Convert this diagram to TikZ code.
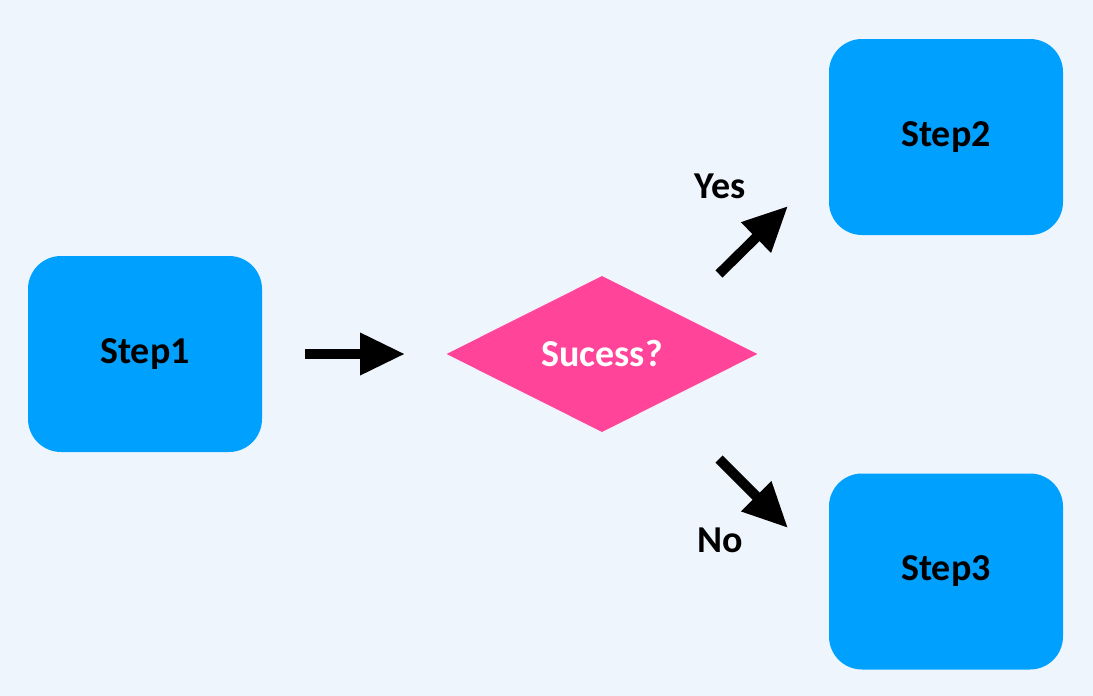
\documentclass[tikz,border=0pt]{standalone}
\usepackage{fontspec}
\setmainfont{Carlito}
\usetikzlibrary{shapes.geometric,arrows.meta}
\definecolor{bg}{HTML}{EFF5FD}
\definecolor{boxblue}{HTML}{00A0FF}
\definecolor{decpink}{HTML}{FF4499}
\tikzset{
  bigtext/.style={font=\fontsize{38}{40}\selectfont\bfseries},
  stepbox/.style={fill=boxblue, draw=none, rounded corners=33pt, minimum width=234pt, minimum height=196pt, inner sep=0pt, bigtext, text=black},
  decbox/.style={shape=diamond, fill=decpink, draw=none, minimum width=311pt, minimum height=156pt, inner sep=0pt},
  flowarrow/.style={line width=10pt, -{Triangle[length=45pt,width=40pt]}, black},
  lbl/.style={bigtext, text=black, inner sep=0pt}
}
\begin{document}
\begin{tikzpicture}[x=1pt,y=-1pt]
\fill[bg] (0,0) rectangle (1093,696);
\useasboundingbox (0,0) rectangle (1093,696);
\node[stepbox] (s1) at (145,354) {Step1};
\node[stepbox] (s2) at (946,137) {Step2};
\node[stepbox] (s3) at (946,571.5) {Step3};
\node[decbox] (dec) at (602,354) {};
\node[bigtext, text=white] (dect) at (dec.center) {Sucess?};
\coordinate (a1s) at (305,354);
\coordinate (a1e) at (405,354);
\coordinate (a2s) at (719,274);
\coordinate (a2e) at (788,206);
\coordinate (a3s) at (719,459);
\coordinate (a3e) at (788,528);
\draw[flowarrow] (a1s) -- (a1e);
\draw[flowarrow] (a2s) -- (a2e);
\draw[flowarrow] (a3s) -- (a3e);
\node[lbl] (yes) at (720,186) {Yes};
\node[lbl] (no) at (720,540) {No};
\end{tikzpicture}
\end{document}
